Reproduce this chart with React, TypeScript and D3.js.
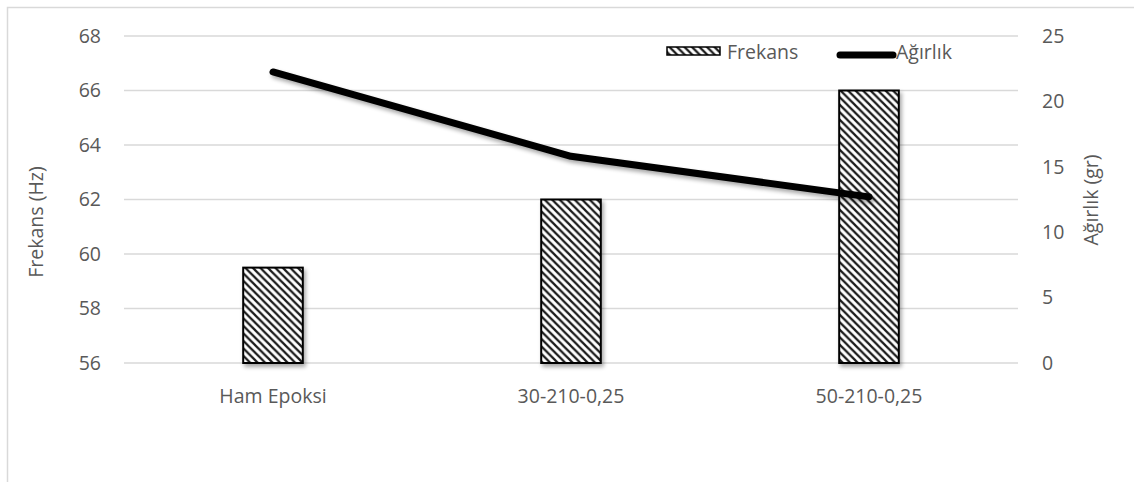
import React from "react";
import * as d3 from "d3";

const categories = ["Ham Epoksi", "30-210-0,25", "50-210-0,25"];
const frekans = [59.5, 62, 66];
const agirlik = [22.25, 15.8, 12.7];
const leftTicks = [56, 58, 60, 62, 64, 66, 68];
const rightTicks = [0, 5, 10, 15, 20, 25];

const W = 1134;
const H = 482;
const FONT = "'Open Sans', sans-serif";
const TXT = "#595959";
const GRID = "#d9d9d9";

export default function App() {
  const x = d3.scaleBand<string>().domain(categories).range([124, 1018]).padding(0);
  const yL = d3.scaleLinear().domain([56, 68]).range([363, 36]);
  const yR = d3.scaleLinear().domain([0, 25]).range([363, 36]);
  const barW = x.bandwidth() * 0.2;
  const cx = (c: string) => (x(c) as number) + x.bandwidth() / 2;

  const line = d3
    .line<number>()
    .x((_, i) => cx(categories[i]))
    .y((d) => yR(d));

  return (
    <svg
      width={W}
      height={H}
      style={{ position: "absolute", left: 0, top: 0, background: "#fff" }}
      fontFamily={FONT}
    >
      <defs>
        <pattern id="hatch" width={7.5} height={7.5} patternUnits="userSpaceOnUse">
          <rect width={7.5} height={7.5} fill="#fff" />
          <path
            d="M-2,5.5 L2,9.5 M0,0 L7.5,7.5 M5.5,-2 L9.5,2"
            stroke="#1a1a1a"
            strokeWidth={2.2}
          />
        </pattern>
        <filter id="shadow" x="-10%" y="-20%" width="130%" height="160%">
          <feGaussianBlur in="SourceAlpha" stdDeviation={2} />
          <feOffset dx={2} dy={3} result="b" />
          <feComponentTransfer>
            <feFuncA type="linear" slope={0.35} />
          </feComponentTransfer>
          <feMerge>
            <feMergeNode />
            <feMergeNode in="SourceGraphic" />
          </feMerge>
        </filter>
      </defs>

      {/* chart frame */}
      <rect x={7.5} y={7.5} width={W + 10} height={H + 10} fill="none" stroke={GRID} strokeWidth={1.5} />

      {/* gridlines */}
      {leftTicks.map((t) => (
        <line key={t} x1={124} x2={1018} y1={yL(t)} y2={yL(t)} stroke={GRID} strokeWidth={1.5} />
      ))}

      {/* left tick labels */}
      {leftTicks.map((t) => (
        <text key={t} x={101} y={yL(t)} dy="0.35em" textAnchor="end" fontSize={19.5} fill={TXT}>
          {t}
        </text>
      ))}
      {/* right tick labels */}
      {rightTicks.map((t) => (
        <text key={t} x={1042} y={yR(t)} dy="0.35em" textAnchor="start" fontSize={19.5} fill={TXT}>
          {t}
        </text>
      ))}

      {/* axis titles */}
      <text
        transform={`translate(36,222) rotate(-90)`}
        textAnchor="middle"
        dy="0.35em"
        fontSize={19.5}
        fill={TXT}
      >
        Frekans (Hz)
      </text>
      <text
        transform={`translate(1091,200) rotate(-90)`}
        textAnchor="middle"
        dy="0.35em"
        fontSize={19.5}
        fill={TXT}
      >
        Ağırlık (gr)
      </text>

      {/* category labels */}
      {categories.map((c) => (
        <text key={c} x={cx(c)} y={396} dy="0.35em" textAnchor="middle" fontSize={19.5} fill={TXT}>
          {c}
        </text>
      ))}

      {/* bars */}
      {categories.map((c, i) => (
        <rect
          key={c}
          x={cx(c) - barW / 2}
          y={yL(frekans[i])}
          width={barW}
          height={yL(56) - yL(frekans[i])}
          fill="url(#hatch)"
          stroke="#000"
          strokeWidth={2}
          filter="url(#shadow)"
        />
      ))}

      {/* weight line */}
      <path
        d={line(agirlik) as string}
        fill="none"
        stroke="#000"
        strokeWidth={7}
        strokeLinecap="round"
        strokeLinejoin="round"
        filter="url(#shadow)"
      />

      {/* legend */}
      <rect x={667} y={47} width={53} height={8} fill="url(#hatch)" stroke="#000" strokeWidth={1.5} />
      <text x={727} y={52} dy="0.35em" fontSize={19.5} fill={TXT}>
        Frekans
      </text>
      <line x1={840} x2={893} y1={55} y2={55} stroke="#000" strokeWidth={7} strokeLinecap="round" />
      <text x={896} y={52} dy="0.35em" fontSize={19.5} fill={TXT}>
        Ağırlık
      </text>
    </svg>
  );
}
